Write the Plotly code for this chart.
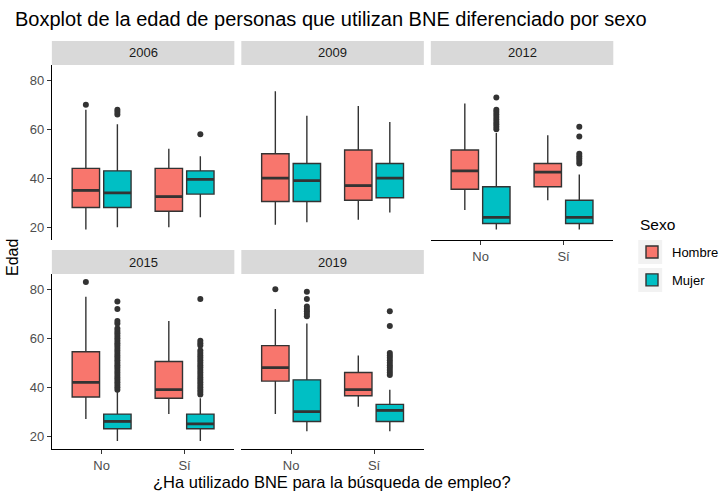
import plotly.graph_objects as go

# ---------------- data ----------------
years = ["2006", "2009", "2012", "2015", "2019"]
categories = ["No", "Sí"]
sexes = ["Hombre", "Mujer"]

# per year: [No, Sí]
hombre_lower = [[19, 20], [21, 23], [27, 31], [27, 29], [29, 32]]
hombre_q1 = [[28, 26.5], [30.5, 31], [35.5, 36.5], [36, 35.5], [42.5, 36.5]]
hombre_median = [[35, 32.5], [40, 37], [43, 42.5], [42, 39], [48, 39]]
hombre_q3 = [[44, 44], [50, 51.5], [51.5, 46], [54.5, 50.5], [57, 46]]
hombre_upper = [[68, 52], [75.5, 69.5], [70.5, 57.5], [77, 67], [72, 53]]
hombre_outliers = [
    [[70], []],
    [[], []],
    [[], []],
    [[83], []],
    [[80], []],
]

mujer_lower = [[20, 24], [22, 26], [19, 19], [18, 18], [22, 22]]
mujer_q1 = [[28, 33.5], [30.5, 32], [21.5, 21.5], [23, 23], [26, 26]]
mujer_median = [[34, 39.5], [39, 40], [24, 24], [26, 25], [30, 30.5]]
mujer_q3 = [[43, 43], [46, 46], [36.5, 31], [29, 29], [43, 33]]
mujer_upper = [[62, 49], [65.5, 63], [58.5, 41.5], [38, 35.5], [66, 39]]
mujer_outliers = [
    [[66, 67, 68], [58]],
    [[], []],
    [[60, 61, 62, 63, 64, 65, 66, 67, 68, 73], [46, 47, 48, 49, 50, 57, 61]],
    [list(range(39, 65)) + [66, 67, 72, 75], list(range(37, 56)) + [57, 58, 59, 76]],
    [[69, 70, 71, 72, 73, 76, 79], list(range(45, 55)) + [65, 71]],
]

y_ticks = [20, 40, 60, 80]

stats = {
    "Hombre": (hombre_lower, hombre_q1, hombre_median, hombre_q3, hombre_upper, hombre_outliers),
    "Mujer": (mujer_lower, mujer_q1, mujer_median, mujer_q3, mujer_upper, mujer_outliers),
}
colors = {"Hombre": "#F8766D", "Mujer": "#00BFC4"}
offsets = {"Hombre": -0.19, "Mujer": 0.19}
BOXW = 0.33
OUTLINE = "#333333"

W, H = 724, 492
col_x = [(52, 235), (242, 425), (432, 615)]
row_y = [(65, 240), (274, 449)]
strip_h = 24
# (col, row, show_x_axis, show_y_axis)
panel_pos = [(0, 0, False, True), (1, 0, False, False), (2, 0, True, False),
             (0, 1, True, True), (1, 1, True, False)]

FONT = "Liberation Sans, Arial, Helvetica, sans-serif"

fig = go.Figure()
base_x = [1, 2]

for i, yr in enumerate(years):
    ax = "" if i == 0 else str(i + 1)
    for s in sexes:
        lo, q1, med, q3, up, outl = stats[s]
        xs = [b + offsets[s] for b in base_x]
        fig.add_trace(go.Box(
            x=xs, q1=q1[i], median=med[i], q3=q3[i],
            lowerfence=lo[i], upperfence=up[i], orientation="v",
            width=BOXW, boxpoints=False, whiskerwidth=0,
            fillcolor=colors[s], line=dict(color=OUTLINE, width=1.4),
            name=s, legendgroup=s, showlegend=(i == 0),
            xaxis="x" + ax, yaxis="y" + ax, hoverinfo="skip",
        ))
        # thicker median line (like ggplot's fatten)
        fig.add_trace(go.Box(
            x=xs, q1=med[i], median=med[i], q3=med[i],
            lowerfence=med[i], upperfence=med[i], orientation="v",
            width=BOXW, boxpoints=False, whiskerwidth=0,
            fillcolor=OUTLINE, line=dict(color=OUTLINE, width=2.8),
            showlegend=False, xaxis="x" + ax, yaxis="y" + ax, hoverinfo="skip",
        ))
        ox, oy = [], []
        for g in range(2):
            ox += [xs[g]] * len(outl[i][g])
            oy += outl[i][g]
        if oy:
            fig.add_trace(go.Scatter(
                x=ox, y=oy, mode="markers",
                marker=dict(color=OUTLINE, size=6),
                showlegend=False, xaxis="x" + ax, yaxis="y" + ax, hoverinfo="skip",
            ))

layout = {}
shapes = []
annotations = []
for i, (c, r, sx, sy) in enumerate(panel_pos):
    ax = "" if i == 0 else str(i + 1)
    x0, x1 = col_x[c]
    y0, y1 = row_y[r]
    layout["xaxis" + ax] = dict(
        type="linear",
        domain=[x0 / W, x1 / W], anchor="y" + ax, range=[0.4, 2.6],
        tickmode="array", tickvals=base_x, ticktext=categories,
        showline=sx, linecolor="black", linewidth=1.1,
        ticks="outside" if sx else "", ticklen=4, tickcolor=OUTLINE, tickwidth=1.1,
        showticklabels=sx, tickfont=dict(size=13, color="#4D4D4D", family=FONT),
        showgrid=False, zeroline=False, fixedrange=True,
    )
    layout["yaxis" + ax] = dict(
        type="linear",
        domain=[1 - y1 / H, 1 - y0 / H], anchor="x" + ax, range=[14.75, 86.25],
        tickmode="array", tickvals=y_ticks,
        showline=sy, linecolor="black", linewidth=1.1,
        ticks="outside" if sy else "", ticklen=4, tickcolor=OUTLINE, tickwidth=1.1,
        showticklabels=sy, tickfont=dict(size=13, color="#4D4D4D", family=FONT),
        showgrid=False, zeroline=False, fixedrange=True,
    )
    shapes.append(dict(type="rect", xref="paper", yref="paper",
                       x0=x0 / W, x1=x1 / W, y0=1 - y0 / H, y1=1 - (y0 - strip_h) / H,
                       fillcolor="#D9D9D9", line=dict(width=0), layer="below"))
    annotations.append(dict(text=years[i], xref="paper", yref="paper",
                            x=(x0 + x1) / 2 / W, y=1 - (y0 - strip_h / 2) / H,
                            showarrow=False, xanchor="center", yanchor="middle",
                            font=dict(size=13, color="#1A1A1A", family=FONT)))

# grey legend key backgrounds (ggplot style)
for ky in (240, 268):
    shapes.append(dict(type="rect", xref="paper", yref="paper",
                       x0=640 / W, x1=664 / W, y0=1 - (ky + 24) / H, y1=1 - ky / H,
                       fillcolor="#F2F2F2", line=dict(width=0), layer="below"))

annotations.append(dict(text="¿Ha utilizado BNE para la búsqueda de empleo?",
                        xref="paper", yref="paper", x=333 / W, y=1 - 482 / H,
                        showarrow=False, xanchor="center", yanchor="middle",
                        font=dict(size=16.5, color="black", family=FONT)))
annotations.append(dict(text="Edad", xref="paper", yref="paper", x=12 / W, y=1 - 257 / H,
                        showarrow=False, xanchor="center", yanchor="middle", textangle=-90,
                        font=dict(size=16, color="black", family=FONT)))
annotations.append(dict(text="Sexo", xref="paper", yref="paper", x=640 / W, y=1 - 225 / H,
                        showarrow=False, xanchor="left", yanchor="middle",
                        font=dict(size=15.5, color="black", family=FONT)))

fig.update_layout(
    **layout,
    width=W, height=H, autosize=False,
    margin=dict(l=0, r=0, t=0, b=0),
    paper_bgcolor="white", plot_bgcolor="white",
    shapes=shapes, annotations=annotations,
    title=dict(text="Boxplot de la edad de personas que utilizan BNE diferenciado por sexo",
               x=15 / W, y=1 - 19 / H, xanchor="left", yanchor="middle",
               font=dict(size=20, color="black", family=FONT)),
    legend=dict(x=634 / W, y=1 - 237 / H, xanchor="left", yanchor="top",
                font=dict(size=13, color="black", family=FONT),
                bgcolor="rgba(0,0,0,0)", tracegroupgap=8),
    font=dict(family=FONT),
)

fig.write_html("out.html", config={"displayModeBar": False},
               post_script="document.body.style.margin='0';")
